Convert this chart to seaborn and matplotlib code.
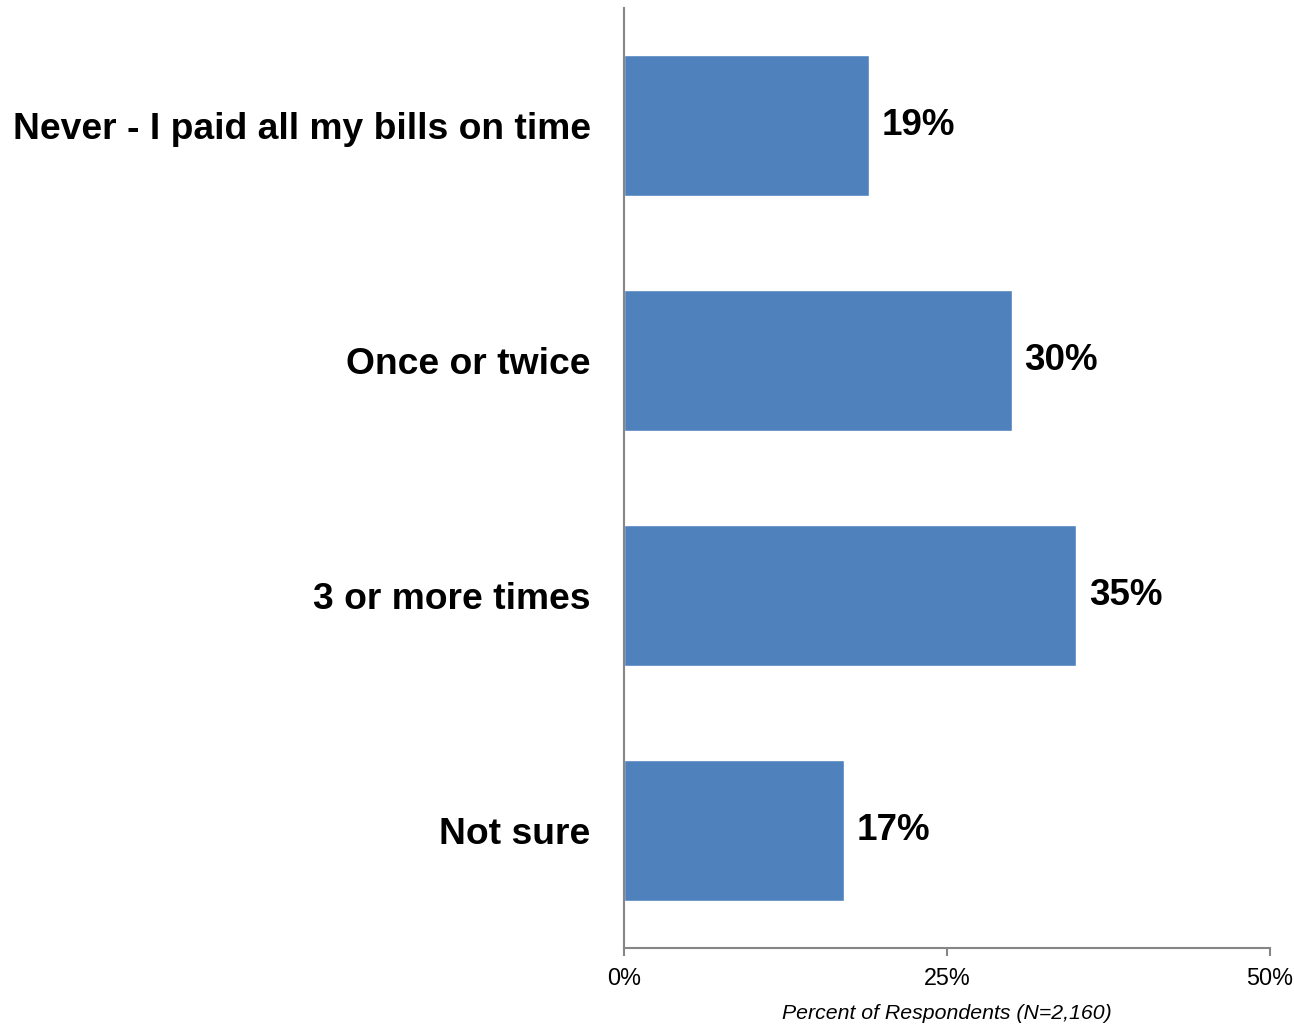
import matplotlib
matplotlib.use("Agg")
import matplotlib.pyplot as plt
import seaborn as sns
import pandas as pd

# Survey responses: how often bills were paid late
categories = ["Never - I paid all my bills on time", "Once or twice", "3 or more times", "Not sure"]
percents = [19, 30, 35, 17]
x_ticks = [0, 25, 50]
x_tick_labels = ["0%", "25%", "50%"]

df = pd.DataFrame({"category": categories, "percent": percents})

sns.set_theme(style="white")
plt.rcParams["font.family"] = ["Liberation Sans", "DejaVu Sans"]

fig = plt.figure(figsize=(12.94, 10.25), dpi=100)
ax = fig.add_axes([0.4822, 0.0751, 0.4993, 0.9171])

bar_color = "#4F81BD"
axis_color = "#868686"

sns.barplot(data=df, x="percent", y="category", orient="h", color=bar_color,
            saturation=1, width=0.6, ax=ax)

ax.set_xlim(0, 50)
ax.set_ylim(3.5, -0.5)
ax.set_xticks(x_ticks)
ax.set_xticklabels(x_tick_labels, fontsize=16.8, color="#000000")
ax.set_xlabel("Percent of Respondents (N=2,160)", fontsize=15.3, fontstyle="italic",
              color="#000000", labelpad=10)
ax.set_ylabel("")
ax.set_yticks(range(len(categories)))
ax.set_yticklabels(categories, fontsize=26.8, fontweight="bold", color="#000000")

ax.tick_params(axis="y", length=0, pad=24)
ax.tick_params(axis="x", length=6, width=1.5, color=axis_color, pad=8, direction="out", bottom=True)

for side in ("top", "right"):
    ax.spines[side].set_visible(False)
for side in ("left", "bottom"):
    ax.spines[side].set_color(axis_color)
    ax.spines[side].set_linewidth(1.5)

# Value labels next to each bar
for container in ax.containers:
    ax.bar_label(container, labels=[f"{v}%" for v in percents], padding=9,
                 fontsize=26.5, fontweight="bold", color="#000000")

ax.grid(False)
fig.savefig("out.png", dpi=100, facecolor="white")
